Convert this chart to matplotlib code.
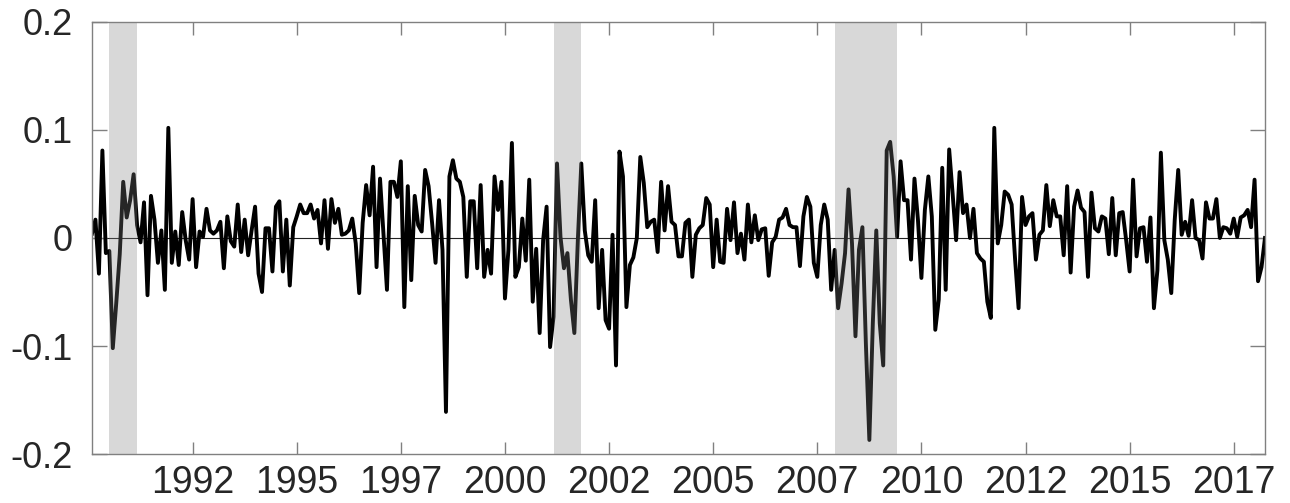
import numpy as np
import matplotlib.pyplot as plt
from matplotlib.patches import Rectangle

plt.rcParams['font.family'] = ['Liberation Sans', 'DejaVu Sans']
plt.rcParams['axes.unicode_minus'] = False

# monthly series, Feb 1990 .. Apr 2018
values = [
    0.004, 0.017, -0.033, 0.081, -0.014, -0.012, -0.102, -0.060, -0.015, 0.052,
    0.019, 0.035, 0.059, 0.012, -0.004, 0.033, -0.053, 0.039, 0.017, -0.023,
    0.007, -0.048, 0.102, -0.023, 0.006, -0.025, 0.024, -0.002, -0.020, 0.036,
    -0.027, 0.006, 0.001, 0.027, 0.007, 0.004, 0.007, 0.015, -0.028, 0.020,
    -0.003, -0.008, 0.031, -0.013, 0.017, -0.016, 0.007, 0.029, -0.033, -0.050,
    0.009, 0.009, -0.031, 0.029, 0.034, -0.031, 0.017, -0.044, 0.010, 0.020,
    0.031, 0.023, 0.023, 0.031, 0.018, 0.026, -0.005, 0.035, -0.010, 0.036,
    0.014, 0.027, 0.003, 0.004, 0.007, 0.018, -0.005, -0.051, 0.014, 0.049,
    0.021, 0.066, -0.027, 0.055, 0.004, -0.048, 0.052, 0.052, 0.038, 0.071,
    -0.064, 0.048, -0.039, 0.039, 0.012, 0.006, 0.063, 0.048, 0.014, -0.023,
    0.035, -0.011, -0.161, 0.057, 0.072, 0.055, 0.052, 0.038, -0.036, 0.034,
    0.034, -0.028, 0.049, -0.036, -0.011, -0.033, 0.057, 0.026, 0.052, -0.056,
    -0.011, 0.088, -0.036, -0.027, 0.018, -0.021, 0.054, -0.059, -0.010, -0.088,
    -0.002, 0.029, -0.101, -0.073, 0.069, 0.001, -0.028, -0.014, -0.057, -0.088,
    -0.002, 0.069, 0.007, -0.016, -0.022, 0.035, -0.065, -0.011, -0.076, -0.084,
    0.003, -0.118, 0.080, 0.057, -0.064, -0.025, -0.018, 0.000, 0.075, 0.051,
    0.010, 0.015, 0.017, -0.013, 0.052, 0.007, 0.048, 0.015, 0.012, -0.017,
    -0.017, 0.014, 0.017, -0.036, 0.003, 0.009, 0.012, 0.037, 0.031, -0.027,
    0.017, -0.022, -0.023, 0.027, -0.002, 0.033, -0.014, 0.004, -0.020, 0.031,
    -0.004, 0.021, -0.002, 0.008, 0.009, -0.035, -0.004, 0.001, 0.017, 0.019,
    0.027, 0.012, 0.010, 0.010, -0.026, 0.020, 0.038, 0.029, -0.023, -0.036,
    0.012, 0.031, 0.017, -0.048, -0.011, -0.065, -0.042, -0.014, 0.045, -0.005,
    -0.091, -0.011, 0.010, -0.098, -0.187, -0.079, 0.007, -0.079, -0.118, 0.081,
    0.089, 0.057, 0.001, 0.071, 0.035, 0.035, -0.020, 0.055, 0.017, -0.037,
    0.026, 0.057, 0.020, -0.085, -0.057, 0.065, -0.048, 0.082, 0.041, -0.002,
    0.061, 0.023, 0.031, 0.000, 0.027, -0.014, -0.019, -0.022, -0.059, -0.074,
    0.102, -0.005, 0.012, 0.043, 0.040, 0.031, -0.020, -0.065, 0.038, 0.012,
    0.020, 0.023, -0.020, 0.003, 0.007, 0.049, 0.011, 0.035, 0.020, 0.020,
    -0.016, 0.048, -0.032, 0.029, 0.044, 0.028, 0.024, -0.036, 0.042, 0.009,
    0.006, 0.020, 0.018, -0.015, 0.037, -0.016, 0.023, 0.024, -0.002, -0.031,
    0.054, -0.017, 0.009, 0.010, -0.022, 0.019, -0.065, -0.030, 0.079, -0.002,
    -0.020, -0.051, 0.017, 0.063, 0.003, 0.015, 0.002, 0.035, 0.000, -0.002,
    -0.019, 0.033, 0.018, 0.018, 0.036, 0.000, 0.010, 0.009, 0.004, 0.018,
    0.001, 0.019, 0.021, 0.026, 0.010, 0.054, -0.040, -0.027, 0.000,
]
start_year = 1990 + 1 / 12
dates = start_year + np.arange(len(values)) / 12

recessions = [(1990 + 6 / 12, 1991 + 2 / 12),
              (2001 + 2 / 12, 2001 + 10 / 12),
              (2007 + 11 / 12, 2009 + 5 / 12)]

xticks = [1992.5, 1995, 1997.5, 2000, 2002.5, 2005, 2007.5, 2010, 2012.5, 2015, 2017.5]
xlabels = ['1992', '1995', '1997', '2000', '2002', '2005', '2007', '2010', '2012', '2015', '2017']
yticks = [-0.2, -0.1, 0, 0.1, 0.2]
ylabels = ['-0.2', '-0.1', '0', '0.1', '0.2']

fig = plt.figure(figsize=(12.9, 5.03), dpi=100)
ax = fig.add_axes([0.0713, 0.0974, 0.9093, 0.8589])

ax.plot(dates, values, color='black', linewidth=2.8, zorder=2)
ax.axhline(0, color='#222222', linewidth=0.8, zorder=1)
for r0, r1 in recessions:
    ax.add_patch(Rectangle((r0, -0.2), r1 - r0, 0.4, facecolor='#808080',
                           alpha=0.3, edgecolor='none', zorder=3))

ax.set_xlim(dates[0], dates[-1])
ax.set_ylim(-0.2, 0.2)
ax.set_xticks(xticks)
ax.set_xticklabels(xlabels)
ax.set_yticks(yticks)
ax.set_yticklabels(ylabels)
ax.tick_params(axis='x', direction='in', top=True, length=9, width=1,
               color='#808080', labelsize=27, labelcolor='#262626', pad=8)
ax.tick_params(axis='y', direction='in', right=True, length=11, width=1,
               color='#808080', labelsize=26, labelcolor='#262626', pad=14)
for s in ax.spines.values():
    s.set_color('#808080')
    s.set_linewidth(1)

fig.savefig('out.png')
